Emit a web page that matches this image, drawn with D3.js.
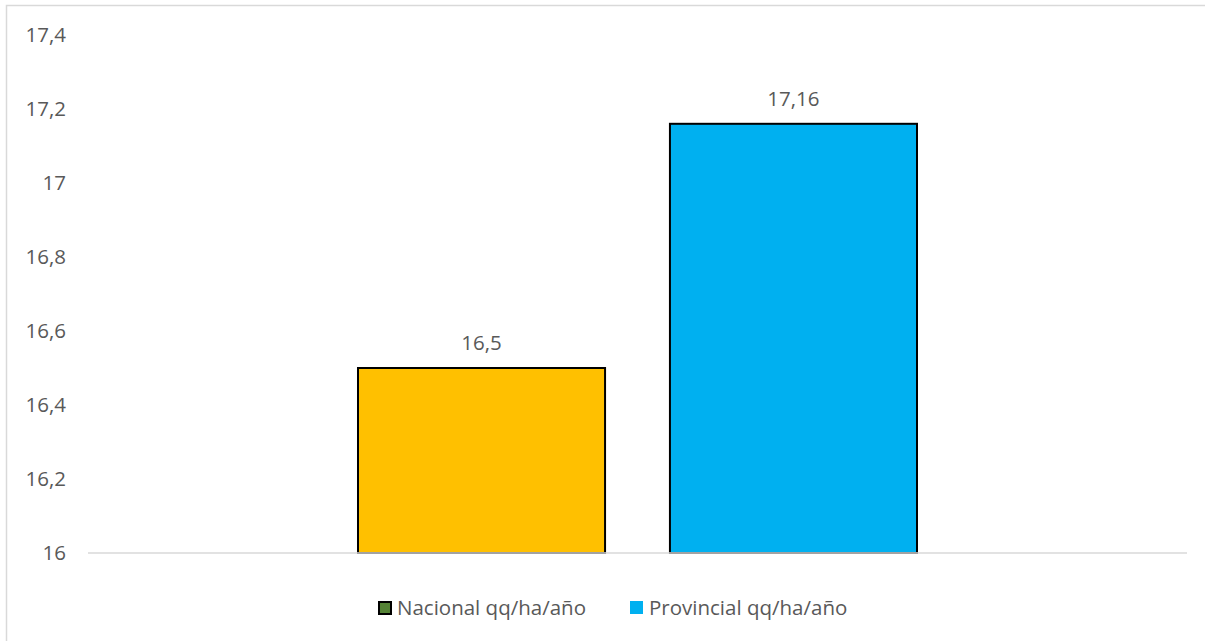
<!DOCTYPE html>
<html>
<head>
<meta charset="utf-8">
<script src="https://cdn.jsdelivr.net/npm/d3@7"></script>
<style>
    body { margin: 0; background: #fff; }
    text { font-family: "Open Sans", "Liberation Sans", sans-serif; fill: #595959; }
</style>
</head>
<body>
<svg id="chart" width="1205" height="641"></svg>
<script>
/*global d3 */

var categories = ["rendimiento"];
var seriesNames = ["Nacional qq/ha/año", "Provincial qq/ha/año"];
var seriesValues = [16.5, 17.16];
var valueLabels = ["16,5", "17,16"];
var tickValues = [16, 16.2, 16.4, 16.6, 16.8, 17, 17.2, 17.4];
var tickLabels = ["16", "16,2", "16,4", "16,6", "16,8", "17", "17,2", "17,4"];

(function () {
    "use strict";

    var ch = {}; //chart state
    var fs = 20.5;

    var barColors = ["#FFC000", "#00B0F0"];
    var legendColors = ["#548235", "#00B0F0"];   //legend swatch differs from bar in the original
    var legendStroke = ["#000", "none"];

    ch.svg = d3.select("#chart");
    ch.margin = {top: 35, left: 88, right: 18, bottom: 88};
    ch.width = 1205 - ch.margin.left - ch.margin.right;
    ch.height = 641 - ch.margin.top - ch.margin.bottom;

    //outer frame, only left and top edges show in the picture
    ch.svg.append("rect")
        .attr("x", 6.5).attr("y", 5.5)
        .attr("width", 1210).attr("height", 650)
        .attr("fill", "none")
        .attr("stroke", "#d9d9d9")
        .attr("stroke-width", 1.5);

    ch.x0 = d3.scaleBand().domain(categories)
        .range([0, ch.width])
        .paddingInner(0).paddingOuter(0.483);
    ch.x1 = d3.scaleBand().domain(seriesNames)
        .range([0, ch.x0.bandwidth()])
        .paddingInner(0.208).paddingOuter(0);
    ch.y = d3.scaleLinear().domain([16, 17.4]).range([ch.height, 0]);

    ch.g = ch.svg.append("g")
        .attr("transform", "translate(" + ch.margin.left + "," + ch.margin.top + ")");

    //y axis labels only, no line or ticks
    ch.yAxis = d3.axisLeft(ch.y)
        .tickValues(tickValues)
        .tickFormat(function (d, i) { return tickLabels[i]; })
        .tickSize(0).tickPadding(22);
    ch.g.append("g")
        .attr("class", "axis axis--y")
        .call(ch.yAxis)
        .call(function (g) {
            g.select(".domain").remove();
            g.selectAll("text")
                .attr("font-size", fs)
                .attr("font-family", null)
                .attr("fill", "#595959"); });

    //bars
    var rows = seriesNames.map(function (n, i) {
        return {name: n, value: seriesValues[i], label: valueLabels[i], idx: i}; });
    var grp = ch.g.append("g")
        .attr("transform", "translate(" + ch.x0(categories[0]) + ",0)");
    grp.selectAll("rect.bar")
        .data(rows)
        .enter().append("rect")
        .attr("class", "bar")
        .attr("x", function (d) { return ch.x1(d.name); })
        .attr("y", function (d) { return ch.y(d.value); })
        .attr("width", ch.x1.bandwidth())
        .attr("height", function (d) { return ch.y(16) - ch.y(d.value); })
        .attr("fill", function (d) { return barColors[d.idx]; })
        .attr("stroke", "#000")
        .attr("stroke-width", 2);

    //baseline
    ch.g.append("line")
        .attr("x1", 0).attr("x2", ch.width)
        .attr("y1", ch.y(16)).attr("y2", ch.y(16))
        .attr("stroke", "#d9d9d9")
        .attr("stroke-width", 1.5);

    //data labels
    grp.selectAll("text.val")
        .data(rows)
        .enter().append("text")
        .attr("class", "val")
        .attr("x", function (d) { return ch.x1(d.name) + ch.x1.bandwidth() / 2; })
        .attr("y", function (d) { return ch.y(d.value) - 18; })
        .attr("text-anchor", "middle")
        .attr("font-size", fs)
        .text(function (d) { return d.label; });

    //legend
    var legX = [378, 630];
    var leg = ch.svg.append("g").attr("class", "legend");
    var item = leg.selectAll("g")
        .data(rows)
        .enter().append("g")
        .attr("transform", function (d) { return "translate(" + legX[d.idx] + ",601)"; });
    item.append("rect")
        .attr("x", function (d) { return d.idx === 0 ? 1 : 0; })
        .attr("y", function (d) { return d.idx === 0 ? 1 : 0; })
        .attr("width", function (d) { return d.idx === 0 ? 12 : 13; })
        .attr("height", function (d) { return d.idx === 0 ? 12 : 13; })
        .attr("fill", function (d) { return legendColors[d.idx]; })
        .attr("stroke", function (d) { return legendStroke[d.idx]; })
        .attr("stroke-width", 2);
    item.append("text")
        .attr("x", 19)
        .attr("y", 14)
        .attr("font-size", fs)
        .text(function (d) { return d.name; });
}());
</script>
</body>
</html>
